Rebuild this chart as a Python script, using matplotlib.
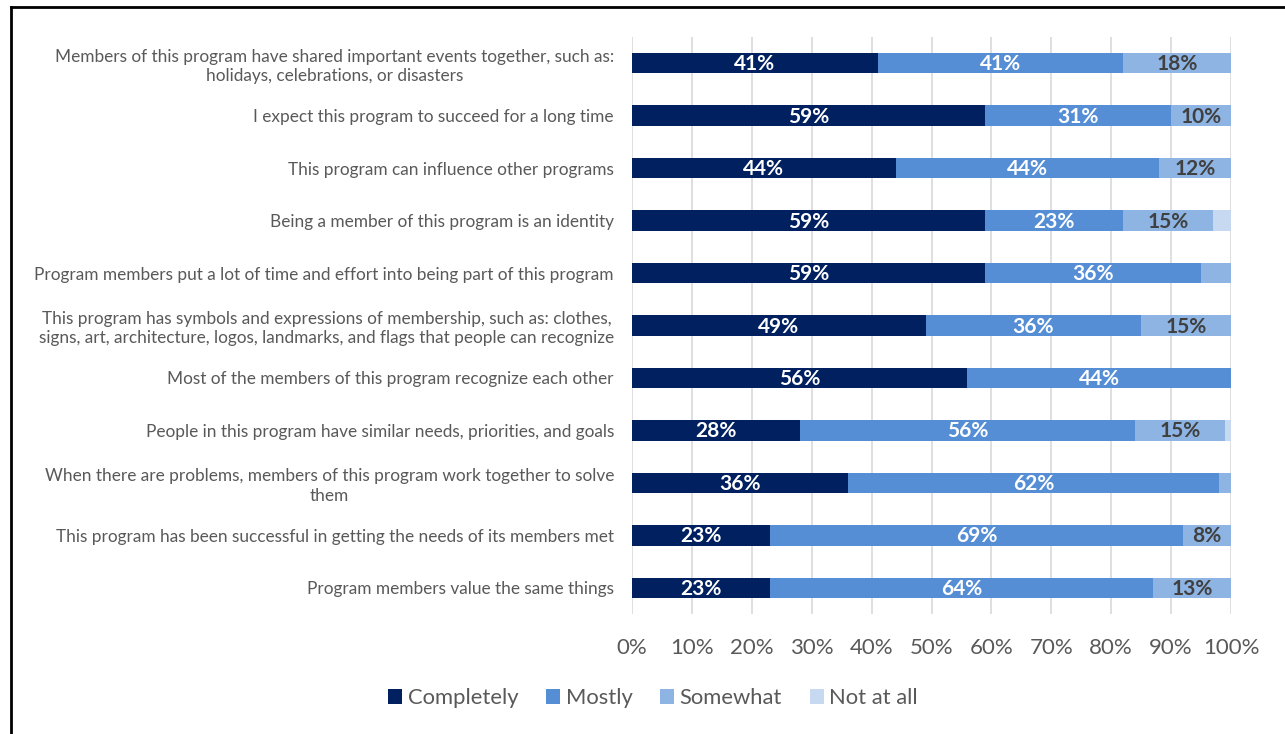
import numpy as np
import matplotlib

matplotlib.use("Agg")
import matplotlib.pyplot as plt

plt.rcParams["font.family"] = ["Lato", "DejaVu Sans"]

# survey items, top to bottom
ITEMS = [
    "Members of this program have shared important events together, such as:\nholidays, celebrations, or disasters",
    "I expect this program to succeed for a long time",
    "This program can influence other programs",
    "Being a member of this program is an identity",
    "Program members put a lot of time and effort into being part of this program",
    "This program has symbols and expressions of membership, such as: clothes,\nsigns, art, architecture, logos, landmarks, and flags that people can recognize",
    "Most of the members of this program recognize each other",
    "People in this program have similar needs, priorities, and goals",
    "When there are problems, members of this program work together to solve\nthem",
    "This program has been successful in getting the needs of its members met",
    "Program members value the same things",
]

LEVELS = ["Completely", "Mostly", "Somewhat", "Not at all"]

# percent of respondents per item
completely = [41, 59, 44, 59, 59, 49, 56, 28, 36, 23, 23]
mostly = [41, 31, 44, 23, 36, 36, 44, 56, 62, 69, 64]
somewhat = [18, 10, 12, 15, 5, 15, 0, 15, 2, 8, 13]
not_at_all = [0, 0, 0, 3, 0, 0, 0, 1, 0, 0, 0]

COLORS = ["#002060", "#558ed5", "#8eb4e3", "#c6d9f1"]
LABEL_COLORS = ["white", "white", "#404040", "#404040"]
MIN_LABEL = 6  # skip value labels on thin segments

fig = plt.figure(figsize=(12.85, 7.34), dpi=100)
ax = fig.add_axes([632 / 1285, 1 - 614 / 734, 599 / 1285, 577 / 734])

y = np.arange(len(ITEMS))
left = np.zeros(len(ITEMS))
handles = []
for name, vals, color, tcolor in zip(
    LEVELS, [completely, mostly, somewhat, not_at_all], COLORS, LABEL_COLORS
):
    vals = np.array(vals, dtype=float)
    bars = ax.barh(y, vals, left=left, height=0.39, color=color, label=name, zorder=3)
    handles.append(bars)
    for yi, l, v in zip(y, left, vals):
        if v >= MIN_LABEL:
            ax.text(l + v / 2, yi + 0.02, f"{int(v)}%", ha="center", va="center",
                    color=tcolor, fontsize=15, fontweight="bold", zorder=4)
    left += vals

ax.set_xlim(0, 100)
ax.set_ylim(len(ITEMS) - 0.5, -0.5)
ax.set_xticks(np.arange(0, 101, 10))
ax.set_xticklabels([f"{t}%" for t in range(0, 101, 10)], fontsize=16, color="#595959")
ax.set_yticks(y)
ax.set_yticklabels(ITEMS, fontsize=12.4, color="#595959", linespacing=1.25,
                   multialignment="center")
ax.tick_params(axis="both", length=0)
ax.tick_params(axis="y", pad=13)
ax.tick_params(axis="x", pad=17)
ax.grid(axis="x", color="#d9d9d9", linewidth=1.2, zorder=0)
for s in ax.spines.values():
    s.set_visible(False)

fig.legend(handles=handles, labels=LEVELS, loc="center", bbox_to_anchor=(653 / 1285, 1 - 698 / 734),
           ncol=4, frameon=False, fontsize=15.8, handlelength=0.65, handleheight=0.65,
           handletextpad=0.25, columnspacing=1.25, labelcolor="#595959")

# frame lines along top and left edge
fig.add_artist(plt.Line2D([11 / 1285, 1], [1 - 7 / 734, 1 - 7 / 734], color="black", linewidth=2,
                          transform=fig.transFigure))
fig.add_artist(plt.Line2D([11 / 1285, 11 / 1285], [0, 1 - 7 / 734], color="black", linewidth=2,
                          transform=fig.transFigure))

fig.savefig("out.png", dpi=100)
